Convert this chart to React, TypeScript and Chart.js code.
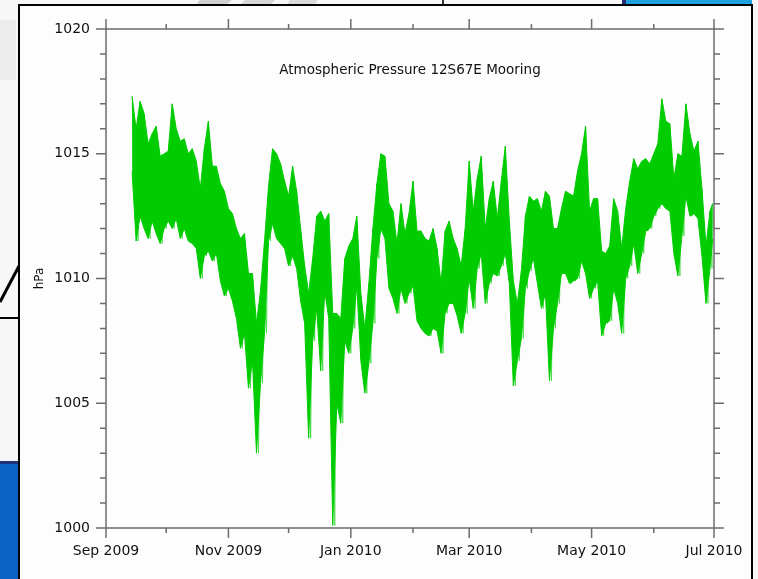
import React, { useEffect, useRef } from 'react';
import { Chart, registerables } from 'chart.js';

Chart.register(...registerables);

const TITLE = 'Atmospheric Pressure 12S67E Mooring';
const Y_TITLE = 'hPa';

// x axis: days since 1 Sep 2009
const MONTH_TICKS = [0, 30, 61, 91, 122, 153, 181, 212, 242, 273, 303];
const MONTH_LABELS = ['Sep 2009', '', 'Nov 2009', '', 'Jan 2010', '', 'Mar 2010', '', 'May 2010', '', 'Jul 2010'];
const Y_MAJOR = [1000, 1005, 1010, 1015, 1020];
const Y_MIN = 1000;
const Y_MAX = 1020;

// two-day windows (day since 1 Sep 2009): highest and lowest pressure
const DAYS = [
  13, 15, 17, 19, 21, 23, 25, 27, 29, 31, 33, 35, 37, 39, 41, 43, 45, 47, 49, 51,
  53, 55, 57, 59, 61, 63, 65, 67, 69, 71, 73, 75, 77, 79, 81, 83, 85, 87, 89, 91,
  93, 95, 97, 99, 101, 103, 105, 107, 109, 111, 113, 115, 117, 119, 121, 123, 125, 127, 129, 131,
  133, 135, 137, 139, 141, 143, 145, 147, 149, 151, 153, 155, 157, 159, 161, 163, 165, 167, 169, 171,
  173, 175, 177, 179, 181, 183, 185, 187, 189, 191, 193, 195, 197, 199, 201, 203, 205, 207, 209, 211,
  213, 215, 217, 219, 221, 223, 225, 227, 229, 231, 233, 235, 237, 239, 241, 243, 245, 247, 249, 251,
  253, 255, 257, 259, 261, 263, 265, 267, 269, 271, 273, 275, 277, 279, 281, 283, 285, 287, 289, 291,
  293, 295, 297, 299, 301, 302.3,
];
const HIGHS = [
  1017.3, 1016.0, 1017.1, 1016.6, 1015.4, 1015.8, 1016.1, 1014.9, 1015.0, 1015.1,
  1017.0, 1016.0, 1015.5, 1015.6, 1015.0, 1015.2, 1014.7, 1013.6, 1015.2, 1016.3,
  1014.5, 1014.5, 1013.8, 1013.5, 1012.8, 1012.6, 1012.0, 1011.6, 1011.8, 1010.2,
  1010.2, 1008.2, 1009.5, 1011.5, 1013.7, 1015.2, 1015.0, 1014.6, 1013.9, 1013.3,
  1014.5, 1013.5, 1012.0, 1010.5, 1009.4, 1010.8, 1012.5, 1012.7, 1012.3, 1012.6,
  1008.6, 1008.6, 1008.4, 1010.8, 1011.3, 1011.6, 1012.5, 1009.4, 1008.0, 1009.8,
  1012.0, 1013.8, 1015.0, 1014.9, 1013.0, 1012.7, 1011.4, 1013.0, 1011.8, 1012.6,
  1013.9, 1011.9, 1011.9, 1011.6, 1011.5, 1012.0, 1011.2, 1009.8, 1011.9, 1012.3,
  1011.6, 1011.2, 1010.5, 1012.0, 1014.7, 1012.7, 1014.0, 1014.9, 1012.0, 1013.2,
  1013.9, 1012.4, 1013.9, 1015.3, 1012.3, 1009.9, 1009.0, 1010.3, 1012.5, 1013.3,
  1013.1, 1013.2, 1012.7, 1013.5, 1013.3, 1012.0, 1012.0, 1012.8, 1013.5, 1013.4,
  1013.3, 1014.3, 1015.0, 1016.1, 1012.7, 1013.2, 1013.2, 1011.1, 1011.0, 1011.3,
  1013.2, 1012.7, 1011.2, 1012.8, 1013.9, 1014.8, 1014.4, 1014.7, 1014.8, 1014.6,
  1015.0, 1015.4, 1017.2, 1016.3, 1016.2, 1014.0, 1015.0, 1014.9, 1017.0, 1015.8,
  1015.1, 1015.5, 1013.6, 1011.3, 1012.7, 1013.0,
];
const LOWS = [
  1014.3, 1011.5, 1012.5, 1012.0, 1011.6, 1012.3, 1011.8, 1011.4, 1012.0, 1012.3,
  1012.0, 1012.4, 1011.6, 1012.0, 1011.5, 1011.4, 1011.2, 1010.0, 1010.9, 1011.1,
  1010.7, 1011.0, 1009.9, 1009.3, 1009.6, 1009.1, 1008.4, 1007.2, 1007.8, 1005.6,
  1006.7, 1003.0, 1005.8, 1007.8, 1011.5, 1012.2, 1011.6, 1011.4, 1011.2, 1010.5,
  1010.9, 1010.4, 1009.1, 1008.2, 1003.6, 1007.5, 1008.8, 1006.3, 1009.5, 1008.4,
  1000.1, 1005.0, 1004.2, 1007.5, 1007.0, 1008.0, 1009.7, 1006.7, 1005.4, 1006.6,
  1008.2, 1010.8, 1012.0, 1011.6, 1009.6, 1009.2, 1008.6, 1009.6, 1009.0, 1009.4,
  1009.7, 1008.3, 1008.0, 1007.8, 1007.7, 1008.0, 1007.9, 1007.0, 1008.6, 1009.0,
  1009.0, 1008.5, 1007.8, 1008.6, 1010.0, 1008.8, 1010.4, 1011.0, 1009.0, 1009.8,
  1010.2, 1010.1, 1010.5, 1011.0, 1009.8, 1005.7, 1006.7, 1007.6, 1009.6, 1010.3,
  1010.8, 1009.8, 1008.8, 1009.4, 1005.9, 1008.0, 1009.0, 1010.2, 1010.2, 1009.8,
  1009.9, 1010.0, 1010.7, 1010.2, 1009.2, 1009.6, 1009.9, 1007.7, 1008.2, 1008.3,
  1009.6, 1009.0, 1007.8, 1010.0, 1010.5, 1011.4, 1010.2, 1011.0, 1011.9, 1012.0,
  1012.5, 1012.8, 1013.0, 1012.8, 1012.7, 1011.0, 1010.1, 1011.7, 1013.3, 1012.5,
  1012.6, 1012.4, 1010.9, 1009.0, 1010.4, 1011.6,
];

const AXIS_COLOR = '#6c6c6c';
const LINE_COLOR = '#00cc00';
const FONT = '"DejaVu Sans", Verdana, sans-serif';

const framePlugin = {
  id: 'frameTicks',
  afterDatasetsDraw(chart: any) {
    const { ctx, chartArea: a, scales } = chart;
    const xs = scales.x;
    const ys = scales.y;
    ctx.save();
    ctx.strokeStyle = AXIS_COLOR;
    ctx.lineWidth = 1.5;
    ctx.beginPath();
    ctx.rect(a.left, a.top, a.right - a.left, a.bottom - a.top);
    MONTH_TICKS.forEach((v, i) => {
      const px = xs.getPixelForValue(v);
      const len = MONTH_LABELS[i] ? 10 : 5;
      ctx.moveTo(px, a.bottom);
      ctx.lineTo(px, a.bottom + len);
      ctx.moveTo(px, a.top);
      ctx.lineTo(px, a.top - len);
    });
    for (let v = Y_MIN; v <= Y_MAX; v += 1) {
      const py = ys.getPixelForValue(v);
      const len = Y_MAJOR.includes(v) ? 10 : 6;
      ctx.moveTo(a.left, py);
      ctx.lineTo(a.left - len, py);
      ctx.moveTo(a.right, py);
      ctx.lineTo(a.right + len, py);
    }
    ctx.stroke();
    ctx.fillStyle = '#111';
    ctx.font = '13.5px ' + FONT;
    ctx.textAlign = 'center';
    ctx.textBaseline = 'middle';
    ctx.fillText(TITLE, (a.left + a.right) / 2, a.top + 41);
    ctx.restore();
  },
};

export default function App() {
  const ref = useRef<HTMLCanvasElement>(null);

  useEffect(() => {
    const highPts = DAYS.map((d, i) => ({ x: d, y: HIGHS[i] }));
    const lowPts = DAYS.map((d, i) => ({ x: d, y: LOWS[i] }));
    const zig: { x: number; y: number }[] = [];
    DAYS.forEach((d, i) => {
      zig.push({ x: d, y: HIGHS[i] });
      zig.push({ x: d + 1, y: LOWS[i] });
    });
    const chart = new Chart(ref.current as HTMLCanvasElement, {
      type: 'line',
      data: {
        datasets: [
          {
            data: highPts,
            borderColor: LINE_COLOR,
            borderWidth: 1,
            pointRadius: 0,
            tension: 0,
            fill: false,
          },
          {
            data: lowPts,
            borderColor: LINE_COLOR,
            backgroundColor: LINE_COLOR,
            borderWidth: 1,
            pointRadius: 0,
            tension: 0,
            fill: '-1',
          },
          {
            data: zig,
            borderColor: '#3fd93f',
            borderWidth: 0.8,
            pointRadius: 0,
            tension: 0,
            fill: false,
          },
        ],
      },
      options: {
        animation: false,
        responsive: false,
        maintainAspectRatio: false,
        layout: { padding: { left: 0, right: 37, top: 23, bottom: 0 } },
        plugins: {
          legend: { display: false },
          tooltip: { enabled: false },
          title: { display: false },
        },
        scales: {
          x: {
            type: 'linear',
            min: 0,
            max: 303,
            afterBuildTicks: (s: any) => {
              s.ticks = MONTH_TICKS.map((v) => ({ value: v }));
            },
            afterFit: (s: any) => {
              s.height = 51;
              s.paddingLeft = 0;
              s.paddingRight = 0;
            },
            grid: { display: false, drawTicks: false },
            border: { display: false },
            ticks: {
              autoSkip: false,
              maxRotation: 0,
              minRotation: 0,
              padding: 15,
              color: '#111',
              font: { family: FONT, size: 14 },
              callback: (v: any) => {
                const i = MONTH_TICKS.indexOf(Number(v));
                return i >= 0 ? MONTH_LABELS[i] : '';
              },
            },
          },
          y: {
            type: 'linear',
            min: Y_MIN,
            max: Y_MAX,
            afterBuildTicks: (s: any) => {
              s.ticks = Y_MAJOR.map((v) => ({ value: v }));
            },
            afterFit: (s: any) => {
              s.width = 86;
              s.paddingTop = 0;
              s.paddingBottom = 0;
            },
            grid: { display: false, drawTicks: false },
            border: { display: false },
            ticks: {
              padding: 16,
              color: '#111',
              font: { family: FONT, size: 14 },
              callback: (v: any) => String(v),
            },
            title: {
              display: true,
              text: Y_TITLE,
              color: '#111',
              font: { family: FONT, size: 12 },
              padding: { top: 13, bottom: 0 },
            },
          },
        },
      },
      plugins: [framePlugin],
    } as any);
    return () => chart.destroy();
  }, []);

  return (
    <div
      style={{
        position: 'fixed',
        left: 0,
        top: 0,
        width: 758,
        height: 579,
        overflow: 'hidden',
        background: '#f7f7f7',
      }}
    >
      <svg width={758} height={579} style={{ position: 'absolute', left: 0, top: 0 }}>
        <polygon points="200,0 232,0 226,5 196,5" fill="#d0d0d0" />
        <polygon points="245,0 275,0 270,5 240,5" fill="#d6d6d6" />
        <polygon points="290,0 318,0 314,5 286,5" fill="#dadada" />
        <rect x={442} y={0} width={2} height={5} fill="#333" />
        <rect x={622} y={0} width={4} height={5} fill="#262a78" />
        <rect x={626} y={0} width={126} height={5} fill="#1ea0e0" />
        <rect x={0} y={20} width={16} height={60} fill="#ececec" />
        <line x1={0} y1={302} x2={19} y2={266} stroke="#000" strokeWidth={3} />
        <line x1={0} y1={318} x2={19} y2={318} stroke="#000" strokeWidth={2} />
        <rect x={0} y={461} width={19} height={3} fill="#23307a" />
        <rect x={0} y={464} width={19} height={115} fill="#0b63c5" />
      </svg>
      <div
        style={{
          position: 'absolute',
          left: 18,
          top: 4,
          width: 731,
          height: 600,
          border: '2px solid #000',
          background: '#fdfdfd',
        }}
      >
        <canvas ref={ref} width={731} height={573} style={{ display: 'block', width: 731, height: 573 }} />
      </div>
    </div>
  );
}
